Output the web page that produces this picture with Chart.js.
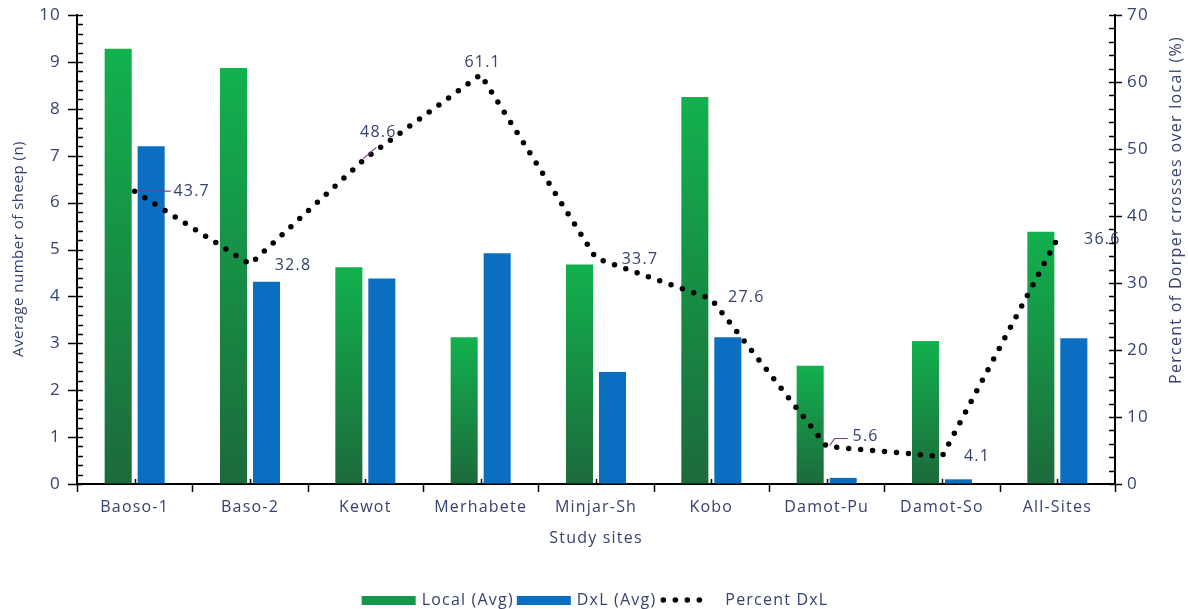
<!DOCTYPE html>
<html><head><meta charset="utf-8">
<script src="https://cdn.jsdelivr.net/npm/chart.js@4.4.1/dist/chart.umd.min.js"></script>
<style>html,body{margin:0;padding:0;background:#fff;}#wrap{width:1188px;height:609px;position:relative;}</style>
</head><body><div id="wrap"><canvas id="c" width="1188" height="609"></canvas></div>
<script>
// ---- data ----
const categories = ['Baoso-1','Baso-2','Kewot','Merhabete','Minjar-Sh','Kobo','Damot-Pu','Damot-So','All-Sites'];
const localAvg   = [9.28, 8.87, 4.62, 3.13, 4.68, 8.25, 2.52, 3.05, 5.38];
const dxlAvg     = [7.20, 4.31, 4.38, 4.92, 2.39, 3.13, 0.13, 0.10, 3.11];
const percentDxl = [43.7, 32.8, 48.6, 61.1, 33.7, 27.6, 5.6, 4.1, 36.6];
const leftAxisMax = 10;
const rightAxisMax = 70;
const leftTitle = 'Average number of sheep (n)';
const rightTitle = 'Percent of Dorper crosses over local (%)';

const FONT = "'Open Sans', 'Liberation Sans', sans-serif";
const TXT = '#36416f';
const LS = '1.2px';

const labelOffsets = [[57,0],[43,1],[13,-26],[2,-12],[44,1],[35,-2],[39,-10],[35,0],[45,1]];
const leaders = {0:[[3,0],[36,0]], 2:[[-2,0],[11,-11]], 6:[[3,-1],[8,-8],[21,-8]]};

function greenGrad(ctx){
  const chart = ctx.chart;
  if(!chart.chartArea || ctx.raw == null) return '#14a84c';
  const y = chart.scales.y;
  const top = y.getPixelForValue(ctx.raw), bot = y.getPixelForValue(0);
  const g = chart.ctx.createLinearGradient(0, bot, 0, top);
  g.addColorStop(0, '#1c6a3b');
  g.addColorStop(1, '#12b14e');
  return g;
}

const spacingPlugin = {
  id:'spacing',
  beforeUpdate(chart){ chart.ctx.letterSpacing=LS; },
  beforeLayout(chart){ chart.ctx.letterSpacing=LS; },
  beforeDraw(chart){ chart.ctx.letterSpacing=LS; }
};

const ticksPlugin = {
  id:'ticksPlugin',
  afterDraw(chart){
    const c = chart.ctx, a = chart.chartArea, y = chart.scales.y, y1 = chart.scales.y1;
    c.save();
    c.strokeStyle = '#000'; c.lineWidth = 1.5;
    for(let i=0;i<=leftAxisMax*5;i++){
      const p = Math.round(y.getPixelForValue(i/5))+0.5;
      const major = i%5===0;
      c.beginPath(); c.moveTo(major? a.left-9 : a.left, p); c.lineTo(a.left+6, p); c.stroke();
    }
    for(let i=0;i<=rightAxisMax/2;i++){
      const p = Math.round(y1.getPixelForValue(i*2))+0.5;
      const major = i%5===0;
      c.beginPath(); c.moveTo(a.right-6, p); c.lineTo(major? a.right+7 : a.right, p); c.stroke();
    }
    const n = categories.length, w = (a.right-a.left)/n;
    for(let i=0;i<=n;i++){
      const p = Math.round(a.left+i*w)+0.5;
      c.beginPath(); c.moveTo(p, a.bottom); c.lineTo(p, a.bottom+8); c.stroke();
    }
    for(let i=0;i<n;i++){
      const p = Math.round(a.left+(i+0.5)*w)+0.5;
      c.beginPath(); c.moveTo(p, a.bottom-5); c.lineTo(p, a.bottom); c.stroke();
    }
    c.restore();
  }
};

const titlesPlugin = {
  id:'titlesPlugin',
  afterDraw(chart){
    const c = chart.ctx;
    c.save();
    c.fillStyle = TXT; c.textAlign='center'; c.textBaseline='middle';
    c.letterSpacing='0.5px';
    c.font = "15px " + FONT;
    c.save(); c.translate(19, 249); c.rotate(-Math.PI/2); c.fillText(leftTitle, 0, 0); c.restore();
    c.letterSpacing='1.3px';
    c.font = "16px " + FONT;
    c.save(); c.translate(1176, 210); c.rotate(-Math.PI/2); c.fillText(rightTitle, 0, 0); c.restore();
    c.restore();
  }
};

const labelPlugin = {
  id:'labelPlugin',
  afterDatasetsDraw(chart){
    const c = chart.ctx;
    const meta = chart.getDatasetMeta(2);
    c.save();
    c.letterSpacing=LS;
    c.font = "16px " + FONT;
    c.fillStyle = TXT;
    c.textAlign='center'; c.textBaseline='middle';
    meta.data.forEach((pt,i)=>{
      const o = labelOffsets[i];
      if(leaders[i]){
        c.strokeStyle='#7d3c8c'; c.lineWidth=1.2;
        c.beginPath();
        leaders[i].forEach((q,k)=>{ if(k===0) c.moveTo(pt.x+q[0], pt.y+q[1]); else c.lineTo(pt.x+q[0], pt.y+q[1]); });
        c.stroke();
      }
      c.fillText(percentDxl[i].toFixed(1), pt.x+o[0], pt.y+o[1]);
    });
    c.restore();
  }
};

const legendPlugin = {
  id:'legendPlugin',
  afterDraw(chart){
    const c = chart.ctx;
    c.save();
    c.letterSpacing=LS;
    c.font = "16px " + FONT;
    c.textBaseline='middle'; c.textAlign='left';
    const items = [
      {type:'box', color:'#17954a', label:'Local (Avg)'},
      {type:'box', color:'#0b6fc1', label:'DxL (Avg)'},
      {type:'dots', label:'Percent DxL'}
    ];
    const boxW = 54, gapBox = 6, gapItem = 3, dotsW = 40, dotsGap = 26;
    let total = 0;
    items.forEach((it,i)=>{
      total += (it.type==='box'? boxW+gapBox : dotsW+dotsGap) + c.measureText(it.label).width + (i<items.length-1?gapItem:0);
    });
    let x = 595 - total/2;
    const yc = 600;
    items.forEach(it=>{
      if(it.type==='box'){
        c.fillStyle = it.color; c.fillRect(x, yc-4, boxW, 9);
        x += boxW+gapBox;
      } else {
        c.fillStyle='#000';
        for(let k=0;k<4;k++){ c.beginPath(); c.arc(x+4+k*12, yc, 2.8, 0, Math.PI*2); c.fill(); }
        x += dotsW+dotsGap;
      }
      c.fillStyle = TXT;
      c.fillText(it.label, x, yc);
      x += c.measureText(it.label).width + gapItem;
    });
    c.restore();
  }
};

function fixV(width){
  return function(s){ s.width = width; s.paddingTop = 0; s.paddingBottom = 0; };
}

new Chart(document.getElementById('c'), {
  type:'bar',
  data:{
    labels: categories,
    datasets:[
      {label:'Local (Avg)', data: localAvg, backgroundColor: greenGrad, yAxisID:'y', order:1,
       categoryPercentage:0.572, barPercentage:0.82},
      {label:'DxL (Avg)', data: dxlAvg, backgroundColor:'#0b6fc1', yAxisID:'y', order:1,
       categoryPercentage:0.572, barPercentage:0.82},
      {type:'line', label:'Percent DxL', data: percentDxl, yAxisID:'y1', order:0,
       borderColor:'#000', borderWidth:5.5, borderDash:[0,12], borderCapStyle:'round',
       pointRadius:0, tension:0, fill:false}
    ]
  },
  options:{
    responsive:false, animation:false,
    layout:{padding:{top:15, left:0, right:0, bottom:0}},
    plugins:{legend:{display:false}, tooltip:{enabled:false}},
    scales:{
      x:{
        grid:{display:true, drawOnChartArea:false, drawTicks:false, color:'transparent'},
        border:{display:true, color:'#000', width:2},
        ticks:{font:{family:FONT, size:16}, color:TXT, padding:14},
        title:{display:true, text:'Study sites', font:{family:FONT, size:16}, color:TXT, padding:{top:10,bottom:61}},
        afterFit(s){ s.height = 125; }
      },
      y:{
        position:'left', min:0, max:leftAxisMax,
        grid:{display:true, drawOnChartArea:false, drawTicks:false, color:'transparent'},
        border:{display:true, color:'#000', width:2},
        ticks:{stepSize:1, font:{family:FONT, size:17}, color:TXT, padding:16},
        title:{display:false},
        afterFit: fixV(77)
      },
      y1:{
        position:'right', min:0, max:rightAxisMax,
        grid:{display:true, drawOnChartArea:false, drawTicks:false, color:'transparent'},
        border:{display:true, color:'#000', width:2},
        ticks:{stepSize:10, font:{family:FONT, size:17}, color:TXT, padding:12},
        title:{display:false},
        afterFit: fixV(73)
      }
    }
  },
  plugins:[spacingPlugin, ticksPlugin, titlesPlugin, labelPlugin, legendPlugin]
});
</script></body></html>
